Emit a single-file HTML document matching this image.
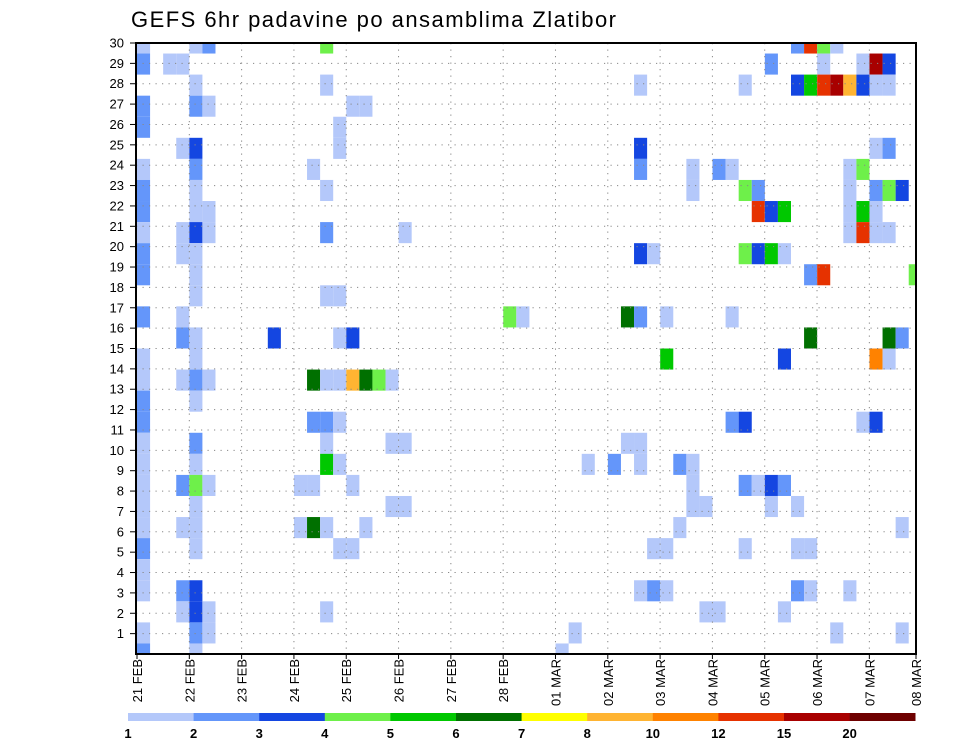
<!DOCTYPE html>
<html><head><meta charset="utf-8"><style>
html,body{margin:0;padding:0;background:#fff;}
svg{display:block;font-family:"Liberation Sans",sans-serif;}
</style></head><body>
<svg id="chart" width="960" height="742" viewBox="0 0 960 742" xmlns="http://www.w3.org/2000/svg">
<text x="131" y="27" font-size="22" fill="#000" textLength="485" lengthAdjust="spacing">GEFS 6hr padavine po ansamblima Zlatibor</text>
<defs><clipPath id="pc"><rect x="136" y="43" width="780" height="611"/></clipPath></defs>
<g id="cells" clip-path="url(#pc)"></g>
<g id="grid"></g>
<g id="axes"></g>
<g id="legend"></g>
</svg>
<script>
// Data: members (top to bottom), 6-hour step indices, precip values (mm)
const rowMembers = [30,29,28,27,26,25,24,23,22,21,20,19,18,17,16,15,14,13,12,11,10,9,8,7,6,5,4,3,2,1];
const rowSteps = [
 [0,4,5,14,50,51,52,53],
 [0,2,3,48,52,55,56,57],
 [4,14,38,46,50,51,52,53,54,55,56,57],
 [0,4,5,16,17],
 [0,15],
 [3,4,15,38,56,57],
 [0,4,13,38,42,44,45,54,55],
 [0,4,14,42,46,47,54,56,57,58],
 [0,4,5,47,48,49,54,55,56],
 [0,3,4,5,14,20,54,55,56,57],
 [0,3,4,38,39,46,47,48,49],
 [0,4,51,52,59],
 [4,14,15],
 [0,3,28,29,37,38,40,45],
 [3,4,10,15,16,51,57,58],
 [0,4,40,49,56,57],
 [0,3,4,5,13,14,15,16,17,18,19],
 [0,4],
 [0,13,14,15,45,46,55,56],
 [0,4,14,19,20,37,38],
 [0,4,14,15,34,36,38,41,42],
 [0,3,4,5,12,13,16,42,46,47,48,49],
 [0,4,19,20,42,43,48,50],
 [0,3,4,12,13,14,17,41,58],
 [0,4,15,16,39,40,46,50,51],
 [0],
 [0,3,4,38,39,40,50,51,54],
 [3,4,5,14,43,44,49],
 [0,4,5,33,53,58],
 [0,4,32]
];
const rowPrecip = [
 [1.5,1.5,2.5,4.5,2.5,13,4.5,1.5],
 [2.5,1.5,1.5,2.5,1.5,1.5,17,3.5],
 [1.5,1.5,1.5,1.5,3.5,5.5,13,17,9,3.5,1.5,1.5],
 [2.5,2.5,1.5,1.5,1.5],
 [2.5,1.5],
 [1.5,3.5,1.5,3.5,1.5,2.5],
 [1.5,2.5,1.5,2.5,1.5,2.5,1.5,1.5,4.5],
 [2.5,1.5,1.5,1.5,4.5,2.5,1.5,2.5,4.5,3.5],
 [2.5,1.5,1.5,13,3.5,5.5,1.5,5.5,1.5],
 [1.5,1.5,3.5,1.5,2.5,1.5,1.5,13,1.5,1.5],
 [2.5,1.5,1.5,3.5,1.5,4.5,3.5,5.5,1.5],
 [2.5,1.5,2.5,13,4.5],
 [1.5,1.5,1.5],
 [2.5,1.5,4.5,1.5,6.5,2.5,1.5,1.5],
 [2.5,1.5,3.5,1.5,3.5,6.5,6.5,2.5],
 [1.5,1.5,5.5,3.5,11,1.5],
 [1.5,1.5,2.5,1.5,6.5,1.5,1.5,9,6.5,4.5,1.5],
 [2.5,1.5],
 [2.5,2.5,2.5,1.5,2.5,3.5,1.5,3.5],
 [1.5,2.5,1.5,1.5,1.5,1.5,1.5],
 [1.5,1.5,5.5,1.5,1.5,2.5,1.5,2.5,1.5],
 [1.5,2.5,4.5,1.5,1.5,1.5,1.5,1.5,2.5,1.5,3.5,2.5],
 [1.5,1.5,1.5,1.5,1.5,1.5,1.5,1.5],
 [1.5,1.5,1.5,1.5,6.5,1.5,1.5,1.5,1.5],
 [2.5,1.5,1.5,1.5,1.5,1.5,1.5,1.5,1.5],
 [1.5],
 [1.5,2.5,3.5,1.5,2.5,1.5,2.5,1.5,1.5],
 [1.5,3.5,1.5,1.5,1.5,1.5,1.5],
 [1.5,2.5,1.5,1.5,1.5,1.5],
 [2.5,1.5,1.5]
];
const dayLabels = ["21 FEB","22 FEB","23 FEB","24 FEB","25 FEB","26 FEB","27 FEB","28 FEB","01 MAR","02 MAR","03 MAR","04 MAR","05 MAR","06 MAR","07 MAR","08 MAR"];
const yTicks = [1,2,3,4,5,6,7,8,9,10,11,12,13,14,15,16,17,18,19,20,21,22,23,24,25,26,27,28,29,30];
const levels = [1,2,3,4,5,6,7,8,10,12,15,20];
const levelColors = ["#b4c8fa","#6496fa","#1446e1","#6ef04a","#00c800","#007000","#ffff00","#ffb432","#ff8200","#e63200","#a80000","#6e0000"];

const NS="http://www.w3.org/2000/svg";
const PL=136, PR=916, PT=43, PB=654;
const X0=137, STEP=13.08, DAY=52.31;
function xStep(s){return X0+STEP*s;}
function xDay(d){return Math.min(X0+DAY*d, PR);}
const MH=(PB-PT)/29;
function yMember(m){return PB-MH*(m-1);}
function yAxis(v){return PB-(PB-PT)/30*v;}
function colorFor(v){let c=null;for(let i=0;i<levels.length;i++){if(v>=levels[i])c=levelColors[i];}return c;}
function mk(tag,attrs,parent){const e=document.createElementNS(NS,tag);for(const k in attrs)e.setAttribute(k,attrs[k]);parent.appendChild(e);return e;}

const gc=document.getElementById('cells');
rowMembers.forEach((m,ri)=>{
  rowSteps[ri].forEach((s,ci)=>{
    const v=rowPrecip[ri][ci];
    const c=colorFor(v); if(!c)return;
    const r=mk('rect',{x:xStep(s).toFixed(2),y:(yMember(m)-MH/2).toFixed(2),width:STEP.toFixed(2),height:MH.toFixed(2),fill:c},gc);
    
    
  });
});

const gg=document.getElementById('grid');
yTicks.forEach(t=>{
  const y=yAxis(t);
  const l=mk('line',{x1:PL,x2:PR,y1:y,y2:y,stroke:'#888','stroke-width':1,'stroke-dasharray':'1.2,5.3'},gg);
  
  
});
dayLabels.forEach((d,i)=>{
  if(i===0||i===dayLabels.length-1)return;
  const x=xDay(i);
  const l=mk('line',{x1:x,x2:x,y1:PT,y2:PB,stroke:'#888','stroke-width':1,'stroke-dasharray':'1.2,5.3'},gg);
  
  
});

const ga=document.getElementById('axes');
const fr=mk('rect',{x:PL,y:PT,width:PR-PL,height:PB-PT,fill:'none',stroke:'#000','stroke-width':2},ga);


yTicks.forEach(t=>{
  const y=yAxis(t);
  const tk=mk('line',{x1:PL-6,x2:PL,y1:y,y2:y,stroke:'#000','stroke-width':1},ga);
  
  
  const tx=mk('text',{x:124,y:y+4.5,'text-anchor':'end','font-size':13,fill:'#000'},ga);
  tx.textContent=String(t);
  
  
});
dayLabels.forEach((d,i)=>{
  const x=xDay(i);
  const tk=mk('line',{x1:x,x2:x,y1:PB,y2:PB+5,stroke:'#000','stroke-width':1},ga);
  
  
  const tx=mk('text',{transform:'translate('+(x+5)+',659) rotate(-90)','text-anchor':'end','font-size':13,fill:'#000'},ga);
  tx.textContent=d;
  
  
});

const gl=document.getElementById('legend');
const LX=128, LW=65.6, LY=713, LH=8;
levels.forEach((lv,i)=>{
  const r=mk('rect',{x:LX+LW*i,y:LY,width:LW+0.3,height:LH,fill:levelColors[i]},gl);
  
  
  const t=mk('text',{x:LX+LW*i,y:738,'text-anchor':'middle','font-size':13,'font-weight':'bold',fill:'#000'},gl);
  t.textContent=String(lv);
  
  
});
</script>
</body></html>
